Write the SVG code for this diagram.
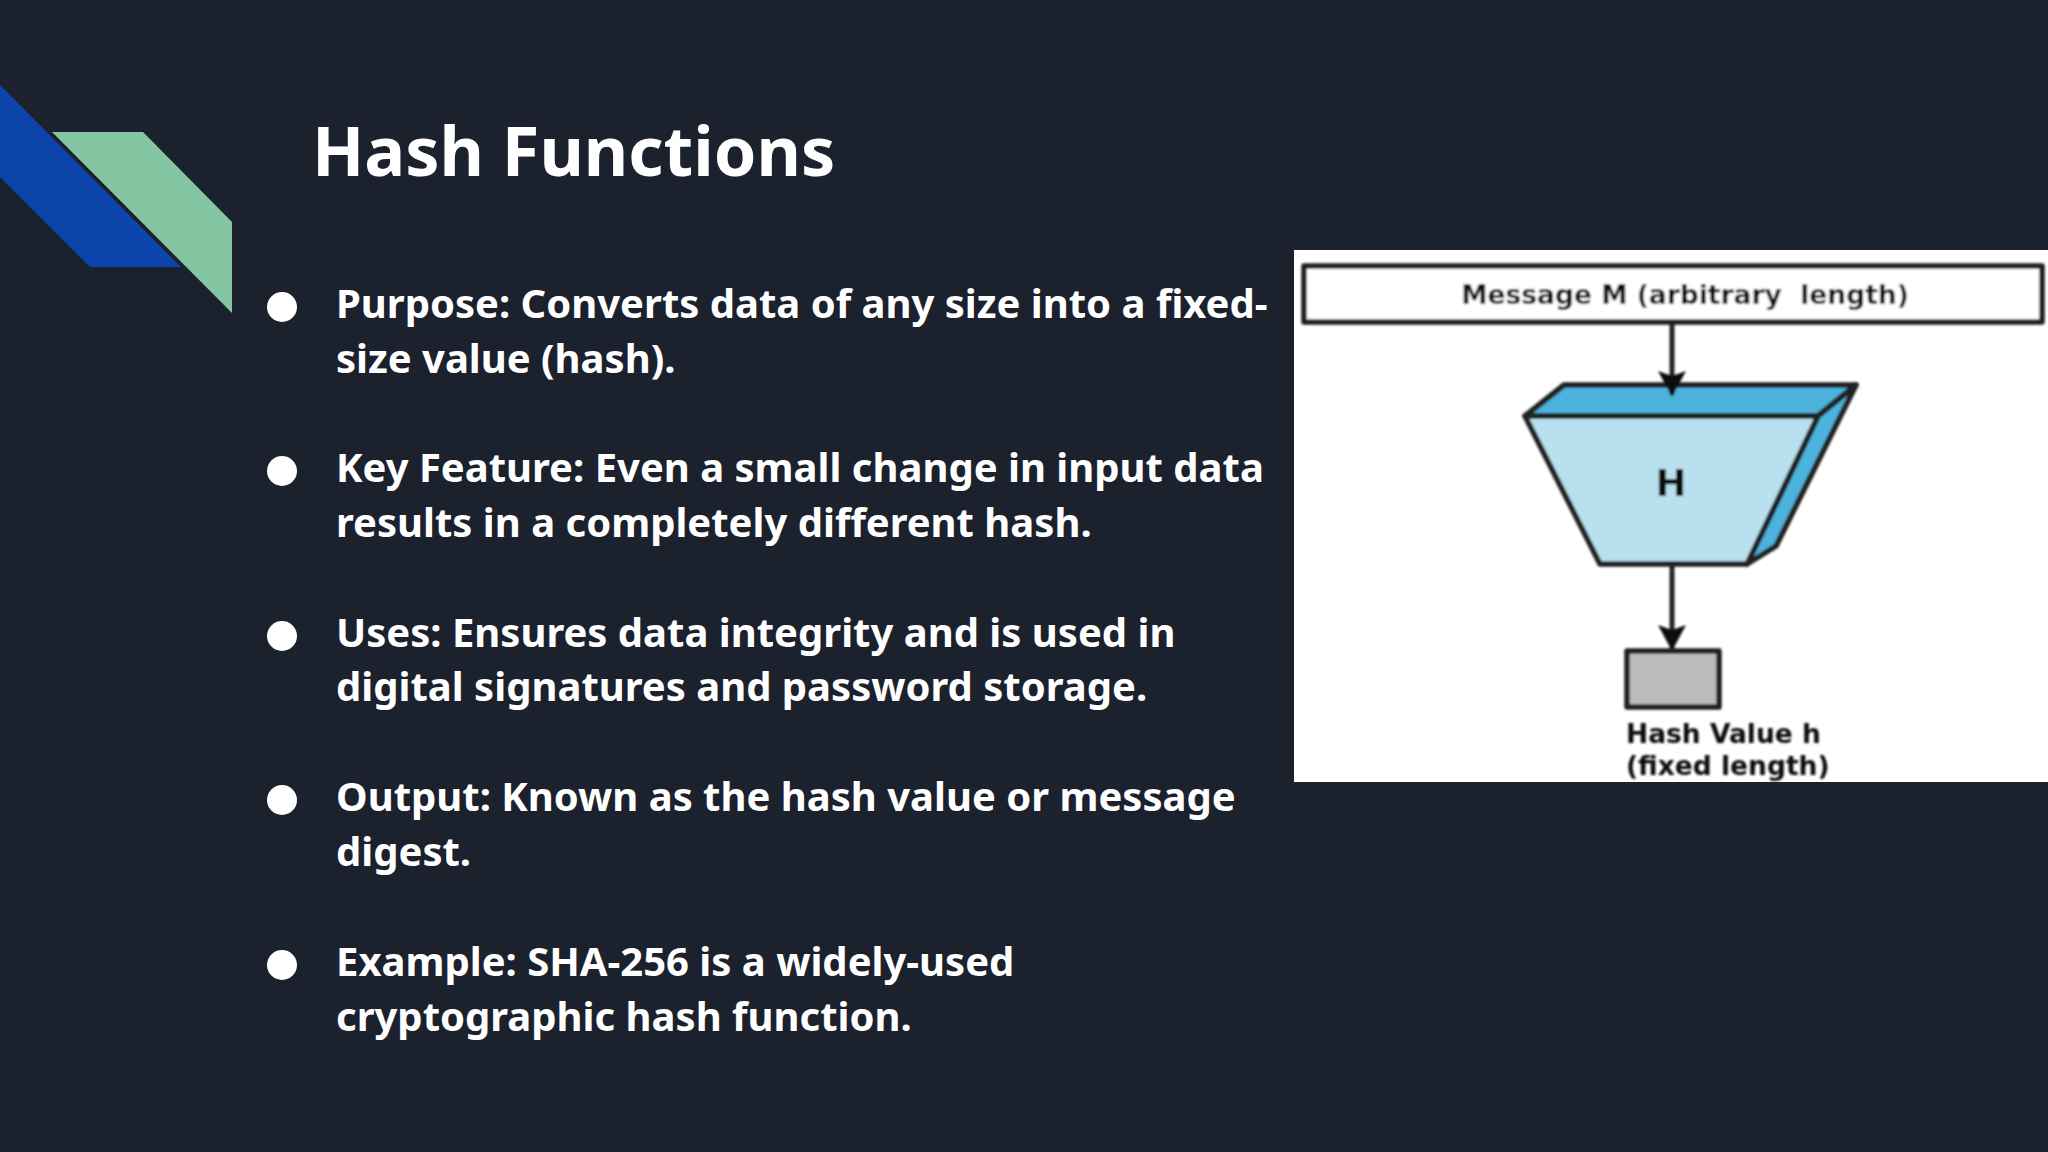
<svg xmlns="http://www.w3.org/2000/svg" width="2048" height="1152" viewBox="0 0 2048 1152">
<style>
.t{font-family:"Noto Sans","Open Sans",sans-serif;font-weight:700;fill:#fff}
.b{font-size:40px}
.d{font-family:"DejaVu Sans",sans-serif;fill:#111;font-size:26.5px;font-weight:700;white-space:pre}
.s{stroke:#222;stroke-width:5.5;stroke-linejoin:round}
</style>
<defs>
<marker id="ah" markerUnits="userSpaceOnUse" markerWidth="30" markerHeight="30" refX="24" refY="14" orient="auto"><path d="M0 0L26 14L0 28L5 14Z" fill="#111"/></marker>
<filter id="soft" x="-5%" y="-5%" width="110%" height="110%"><feGaussianBlur stdDeviation="1"/></filter>
</defs>
<rect width="2048" height="1152" fill="#1c212e"/>
<g id="decor">
<path d="M0 85L181 267H90L0 177Z" fill="#0b45ac"/>
<path d="M52 132H143L232 222V313Z" fill="#84c5a2"/>
</g>
<text class="t" x="312" y="176" font-size="68.4">Hash Functions</text>
<g id="bullets">
<g id="b1"><circle cx="282" cy="307" r="15" fill="#fff"/><text class="t b" x="336" y="317.5">Purpose: Converts data of any size into a fixed-</text><text class="t b" x="336" y="372.5">size value (hash).</text></g>
<g id="b2"><circle cx="282" cy="471" r="15" fill="#fff"/><text class="t b" x="336" y="481.5">Key Feature: Even a small change in input data</text><text class="t b" x="336" y="536.5">results in a completely different hash.</text></g>
<g id="b3"><circle cx="282" cy="636" r="15" fill="#fff"/><text class="t b" x="336" y="646.5">Uses: Ensures data integrity and is used in</text><text class="t b" x="336" y="701">digital signatures and password storage.</text></g>
<g id="b4"><circle cx="282" cy="800" r="15" fill="#fff"/><text class="t b" x="336" y="810.5">Output: Known as the hash value or message</text><text class="t b" x="336" y="865.5">digest.</text></g>
<g id="b5"><circle cx="282" cy="965" r="15" fill="#fff"/><text class="t b" x="336" y="975.5">Example: SHA-256 is a widely-used</text><text class="t b" x="336" y="1030.5">cryptographic hash function.</text></g>
</g>
<rect x="1294" y="250" width="754" height="532" fill="#fff"/>
<g filter="url(#soft)">
<g id="message"><rect class="s" x="1304" y="266" width="738" height="56" fill="#fff"/><text class="d" x="1685" y="304" text-anchor="middle">Message M (arbitrary  length)</text></g>
<g id="hash"><path class="s" d="M1525 416L1564 385H1856L1818 416Z" fill="#4db2dc"/><path class="s" d="M1818 416L1856 385L1776 546L1747 564Z" fill="#4db2dc"/><path class="s" d="M1525 416H1818L1747 564H1600Z" fill="#b9e0ef"/><text class="d" x="1671" y="496" text-anchor="middle" style="font-size:37px">H</text></g>
<g id="connectors"><path d="M1672 323V395" stroke="#222" stroke-width="5" fill="none" marker-end="url(#ah)"/><path d="M1672 564V649" stroke="#222" stroke-width="5" fill="none" marker-end="url(#ah)"/></g>
<g id="value"><rect class="s" x="1627" y="651" width="92" height="56" fill="#bcbcbc"/><text class="d" x="1626" y="743">Hash Value h</text><text class="d" x="1626" y="775">(fixed length)</text></g>
</g>
</svg>
